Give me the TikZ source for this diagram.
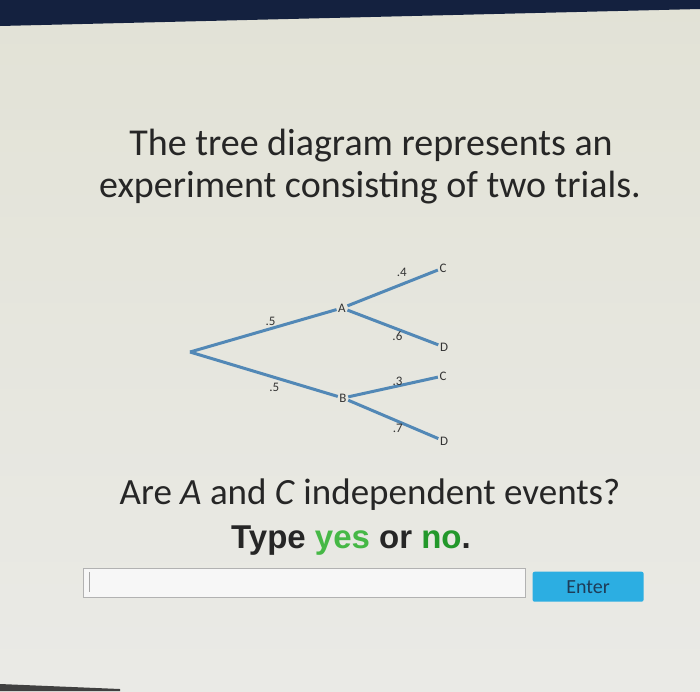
\documentclass[tikz,border=0pt]{standalone}
\usepackage{fontspec}
\setmainfont{Carlito}
\newfontfamily\buttonfont{Liberation Sans}
\usetikzlibrary{positioning}
\definecolor{screentop}{HTML}{E2E2D6}
\definecolor{screenbottom}{HTML}{EAEAE6}
\definecolor{navyband}{HTML}{14213F}
\definecolor{branchblue}{HTML}{5288B6}
\definecolor{yesgreen}{HTML}{46B846}
\definecolor{nogreen}{HTML}{23982B}
\definecolor{enterblue}{HTML}{2CAEE2}
\definecolor{entertext}{HTML}{1E3C58}
\tikzset{branch/.style={draw=branchblue, line width=3pt}}
\tikzset{outcome/.style={inner sep=1.5pt, font=\fontsize{13}{14}\selectfont, text=black!80}}
\tikzset{prob/.style={inner sep=1pt, font=\fontsize{13}{14}\selectfont, text=black!80}}
\tikzset{headline/.style={font=\fontsize{38}{40}\selectfont, text=black!85}}

\begin{document}
\begin{tikzpicture}[x=1pt, y=-1pt]
\useasboundingbox (0,0) rectangle (700,691);
\shade[top color=screentop, bottom color=screenbottom] (0,0) rectangle (700,691);
\fill[navyband] (0,0) -- (700,0) -- (700,9) -- (0,26) -- cycle;
\fill[black!75] (0,684) -- (120,689) -- (120,691) -- (0,691) -- cycle;

% question text
\node[headline] (title1) at (371,146) {The tree diagram represents an};
\node[headline] (title2) at (370,188) {experiment consisting of two trials.};

% tree
\coordinate (root) at (190,352);
\node[outcome] (A) at (342,308) {A};
\node[outcome] (B) at (343,398) {B};
\node[outcome] (AC) at (443,268) {C};
\node[outcome] (AD) at (444,347) {D};
\node[outcome] (BC) at (443,376) {C};
\node[outcome] (BD) at (444,441) {D};
\draw[branch] (root) -- (A) node[prob, pos=.55, above=1pt] {.5};
\draw[branch] (root) -- (B) node[prob, pos=.57, below=3pt] {.5};
\draw[branch] (A) -- (AC) node[prob, pos=.6, above=5pt] {.4};
\draw[branch] (A) -- (AD) node[prob, pos=.55, below=0pt] {.6};
\draw[branch] (B) -- (BC) node[prob, pos=.55, above=-2pt] {.3};
\draw[branch] (B) -- (BD) node[prob, pos=.55, below=0pt] {.7};

% answer prompt
\node[font=\fontsize{37}{40}\selectfont, text=black!85] (ask) at (370,495)
  {Are \textit{A} and \textit{C} independent events?};
\node[font=\buttonfont\bfseries\fontsize{33}{36}\selectfont, text=black!85] (type) at (351,541)
  {Type \textcolor{yesgreen}{yes} or \textcolor{nogreen}{no}.};

% input and button
\node[draw=black!30, fill=black!3, minimum width=442pt, minimum height=29pt, inner sep=0pt, anchor=north west] (field) at (83,568) {};
\draw[black!35, line width=0.8pt] ([xshift=6pt, yshift=-4pt]field.north west) -- ([xshift=6pt, yshift=5pt]field.south west);
\node[fill=enterblue, rounded corners=2pt, minimum width=111pt, minimum height=30pt, inner sep=0pt, right=7pt of field.east, yshift=-4pt, font=\fontsize{20}{22}\selectfont, text=entertext] (enter) {Enter};
\end{tikzpicture}
\end{document}
